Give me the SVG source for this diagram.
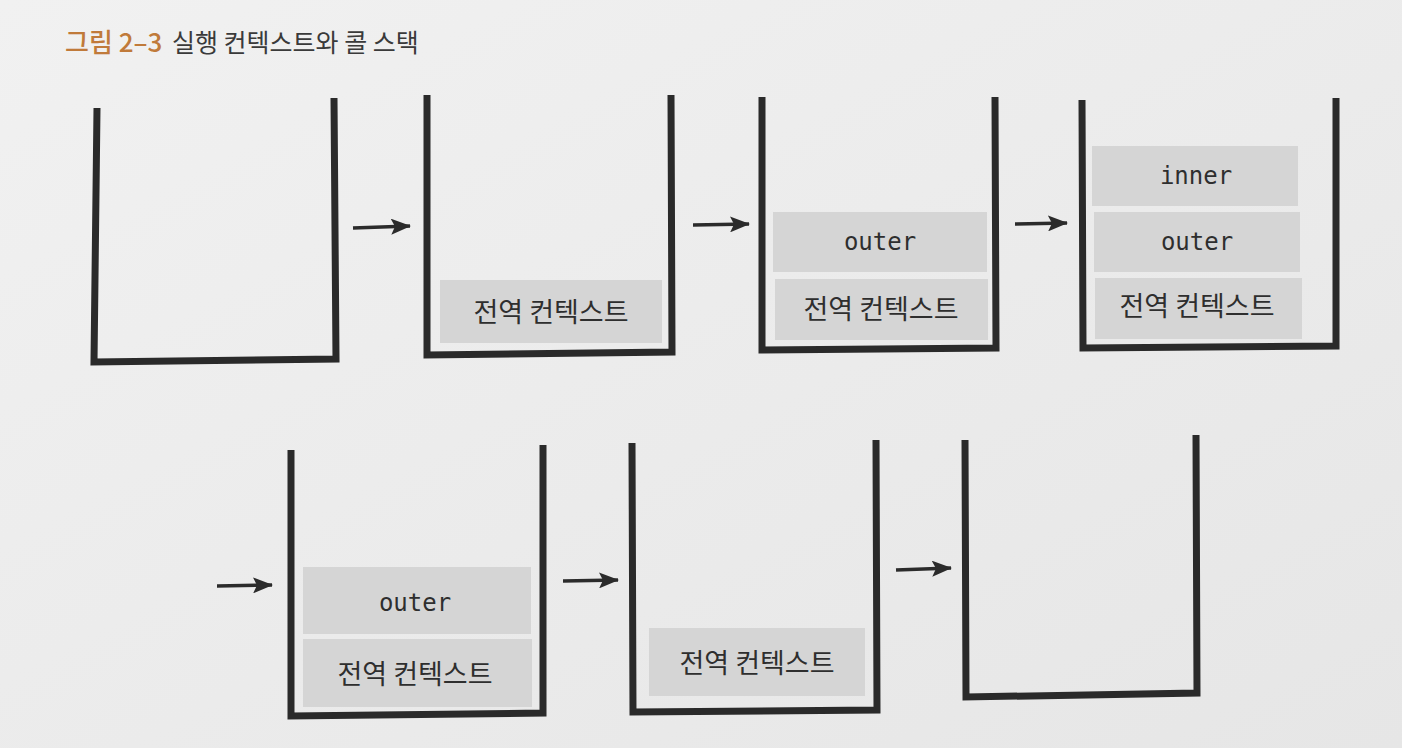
<svg xmlns="http://www.w3.org/2000/svg" width="1402" height="748" viewBox="0 0 1402 748">
  <defs>
    <linearGradient id="bg" x1="0" y1="0" x2="1" y2="1">
      <stop offset="0" stop-color="#f1f1f1"/>
      <stop offset="1" stop-color="#e6e6e6"/>
    </linearGradient>
    <marker id="ah" viewBox="0 0 20 16" refX="19" refY="8" markerWidth="20" markerHeight="16" markerUnits="userSpaceOnUse" orient="auto">
      <path d="M0,0 L20,8 L0,16 L4,8 Z" fill="#2b2b2b"/>
    </marker>
    <style>
      .cup { fill: none; stroke: #2a2a2a; stroke-width: 7; stroke-linejoin: miter; stroke-linecap: butt; }
      .box { fill: #d5d5d5; }
      .ko { font-family: "Noto Sans CJK KR", "Noto Sans", sans-serif; font-size: 27px; fill: #2e2e2e; text-anchor: middle; }
      .mono { font-family: "DejaVu Sans Mono", "Liberation Mono", monospace; font-size: 24px; fill: #2e2e2e; text-anchor: middle; }
      .arrow { stroke: #2b2b2b; stroke-width: 3.5; fill: none; marker-end: url(#ah); }
    </style>
  </defs>

  <rect x="0" y="0" width="1402" height="748" fill="url(#bg)"/>

  <g id="title">
    <text x="65" y="52" font-family="Noto Sans CJK KR, Noto Sans, sans-serif" font-size="26" font-weight="500" fill="#c07a3a">그림 2–3</text>
    <text x="172" y="52" font-family="Noto Sans CJK KR, Noto Sans, sans-serif" font-size="25" fill="#3a3a3a">실행 컨텍스트와 콜 스택</text>
  </g>

  <g id="stack1">
    <polyline class="cup" points="97,108 94,362 336,359 334,98"/>
  </g>

  <g id="stack2">
    <polyline class="cup" points="427,95 427,355 672,352 671,95"/>
    <rect class="box" x="440" y="280" width="222" height="63"/>
    <text class="ko" x="551" y="322">전역 컨텍스트</text>
  </g>

  <g id="stack3">
    <polyline class="cup" points="762,97 762,350 996,348 995,97"/>
    <rect class="box" x="773" y="212" width="214" height="60"/>
    <text class="mono" x="880" y="250">outer</text>
    <rect class="box" x="775" y="279" width="213" height="61"/>
    <text class="ko" x="881" y="319">전역 컨텍스트</text>
  </g>

  <g id="stack4">
    <polyline class="cup" points="1082,100 1083,348 1336,346 1336,98"/>
    <rect class="box" x="1092" y="146" width="206" height="60"/>
    <text class="mono" x="1196" y="184">inner</text>
    <rect class="box" x="1094" y="212" width="206" height="60"/>
    <text class="mono" x="1197" y="250">outer</text>
    <rect class="box" x="1095" y="278" width="207" height="61"/>
    <text class="ko" x="1197" y="316">전역 컨텍스트</text>
  </g>

  <g id="stack5">
    <polyline class="cup" points="291,450 291,716 543,713 543,445"/>
    <rect class="box" x="303" y="567" width="228" height="67"/>
    <text class="mono" x="415" y="611">outer</text>
    <rect class="box" x="303" y="639" width="229" height="68"/>
    <text class="ko" x="415" y="684">전역 컨텍스트</text>
  </g>

  <g id="stack6">
    <polyline class="cup" points="632,443 633,712 877,710 876,440"/>
    <rect class="box" x="649" y="628" width="216" height="68"/>
    <text class="ko" x="757" y="673">전역 컨텍스트</text>
  </g>

  <g id="stack7">
    <polyline class="cup" points="965,440 966,697 1197,693 1196,435"/>
  </g>

  <g id="connectors">
    <line class="arrow" x1="353" y1="228" x2="410" y2="226"/>
    <line class="arrow" x1="693" y1="225" x2="749" y2="224"/>
    <line class="arrow" x1="1015" y1="224" x2="1067" y2="223"/>
    <line class="arrow" x1="217" y1="586" x2="272" y2="585"/>
    <line class="arrow" x1="563" y1="581" x2="618" y2="580"/>
    <line class="arrow" x1="896" y1="570" x2="951" y2="568"/>
  </g>
</svg>
